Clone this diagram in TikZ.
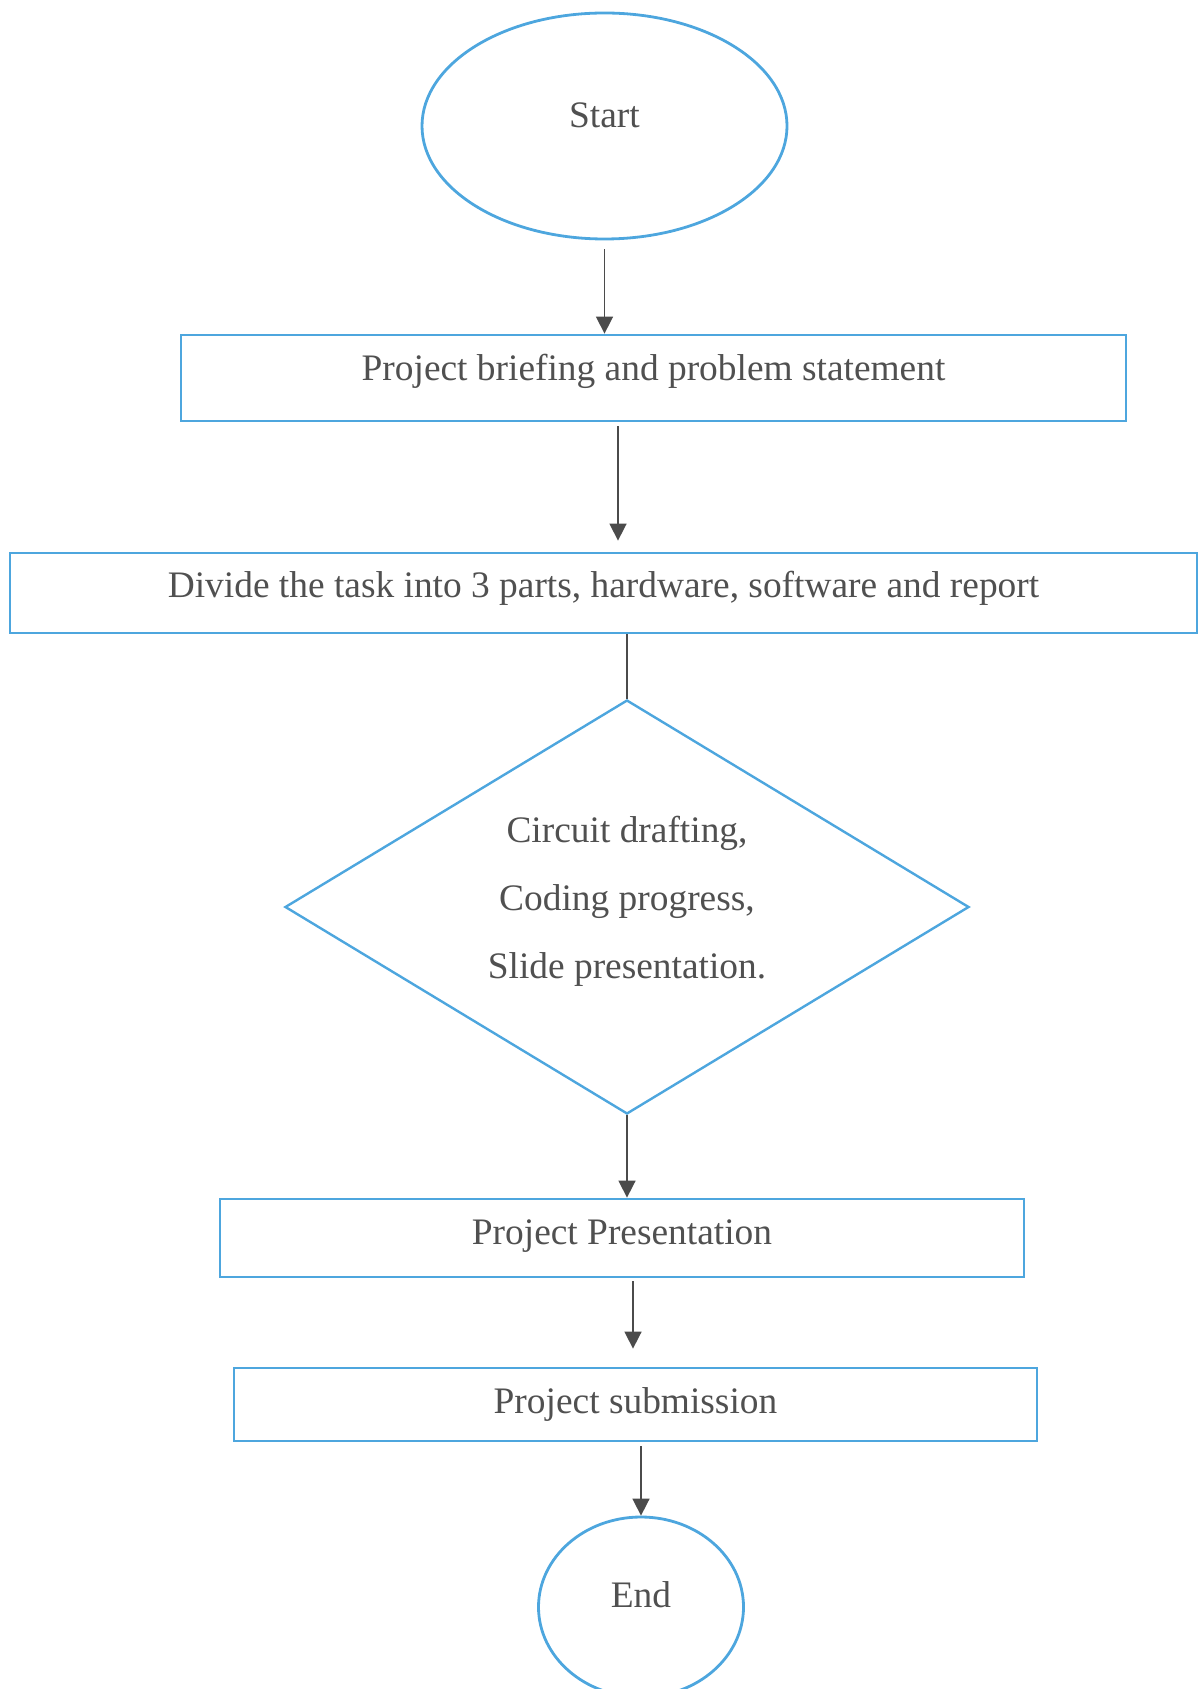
\documentclass[tikz,border=0pt]{standalone}
\usepackage{fontspec}
\setmainfont{Liberation Serif}
\usepackage{xcolor}
\usetikzlibrary{arrows.meta, shapes.geometric, positioning}

\definecolor{flowblue}{RGB}{77,166,222}
\definecolor{textgray}{RGB}{80,80,80}
\definecolor{arrowgray}{RGB}{75,75,75}

\begin{document}
\begin{tikzpicture}[
x=0.5pt, y=-0.5pt,
every node/.style = {text=textgray, font=\fontsize{18.7}{34}\selectfont,
                     inner sep=0pt},
terminal/.style = {ellipse, draw=flowblue, line width=1.4pt},
process/.style  = {rectangle, draw=flowblue, line width=1.4pt},
decision/.style = {diamond, draw=flowblue, line width=1.2pt, align=center,
                   aspect=1.65},
arrow/.style = {draw=arrowgray, line width=0.8pt,
                -{Triangle[width=8.5pt,length=8.5pt]}},
conn/.style  = {draw=arrowgray, line width=0.8pt},
                        ]
\useasboundingbox (0,0) rectangle (1201,1689);
\node (start) [terminal, minimum width=182.5pt, minimum height=113pt,
               text depth=11pt]
      at (604.5,126) {Start};
\node (brief) [process, minimum width=472.5pt, minimum height=43pt,
               text depth=10.5pt]
      at (653.5,378) {Project briefing and problem statement};
\node (divide) [process, minimum width=593.5pt, minimum height=40pt,
                text depth=8.4pt]
      at (603.5,593) {Divide the task into 3 parts, hardware, software and report};
\node (check) [decision, minimum width=342pt, minimum height=207pt,
               text depth=9.5pt]
      at (627,907) {Circuit drafting,\\ Coding progress,\\ Slide presentation.};
\node (present) [process, minimum width=402pt, minimum height=39pt,
                 text depth=6.2pt]
      at (622,1238) {Project Presentation};
\node (submit) [process, minimum width=401.5pt, minimum height=36.5pt]
      at (635.5,1404.5) {Project submission};
\node (end) [terminal, minimum width=102.5pt, minimum height=90pt,
             text depth=12pt]
      at (641,1607) {End};
% connectors
\draw[arrow, shorten <=4.5pt] (start.south) -- (start.south |- brief.north);
\draw[arrow] ([xshift=-17.75pt,yshift=-2pt]brief.south)
          -- ([xshift=7.25pt,yshift=5.5pt]divide.north);
\draw[conn] (check.north |- divide.south) -- (check.north);
\draw[arrow] (check.south) -- (check.south |- present.north);
\draw[arrow] ([xshift=5.5pt,yshift=-1.5pt]present.south)
          -- ([xshift=-1.25pt,yshift=9pt]submit.north);
\draw[arrow, shorten <=2pt] (end.north |- submit.south) -- (end.north);
\end{tikzpicture}
\end{document}
